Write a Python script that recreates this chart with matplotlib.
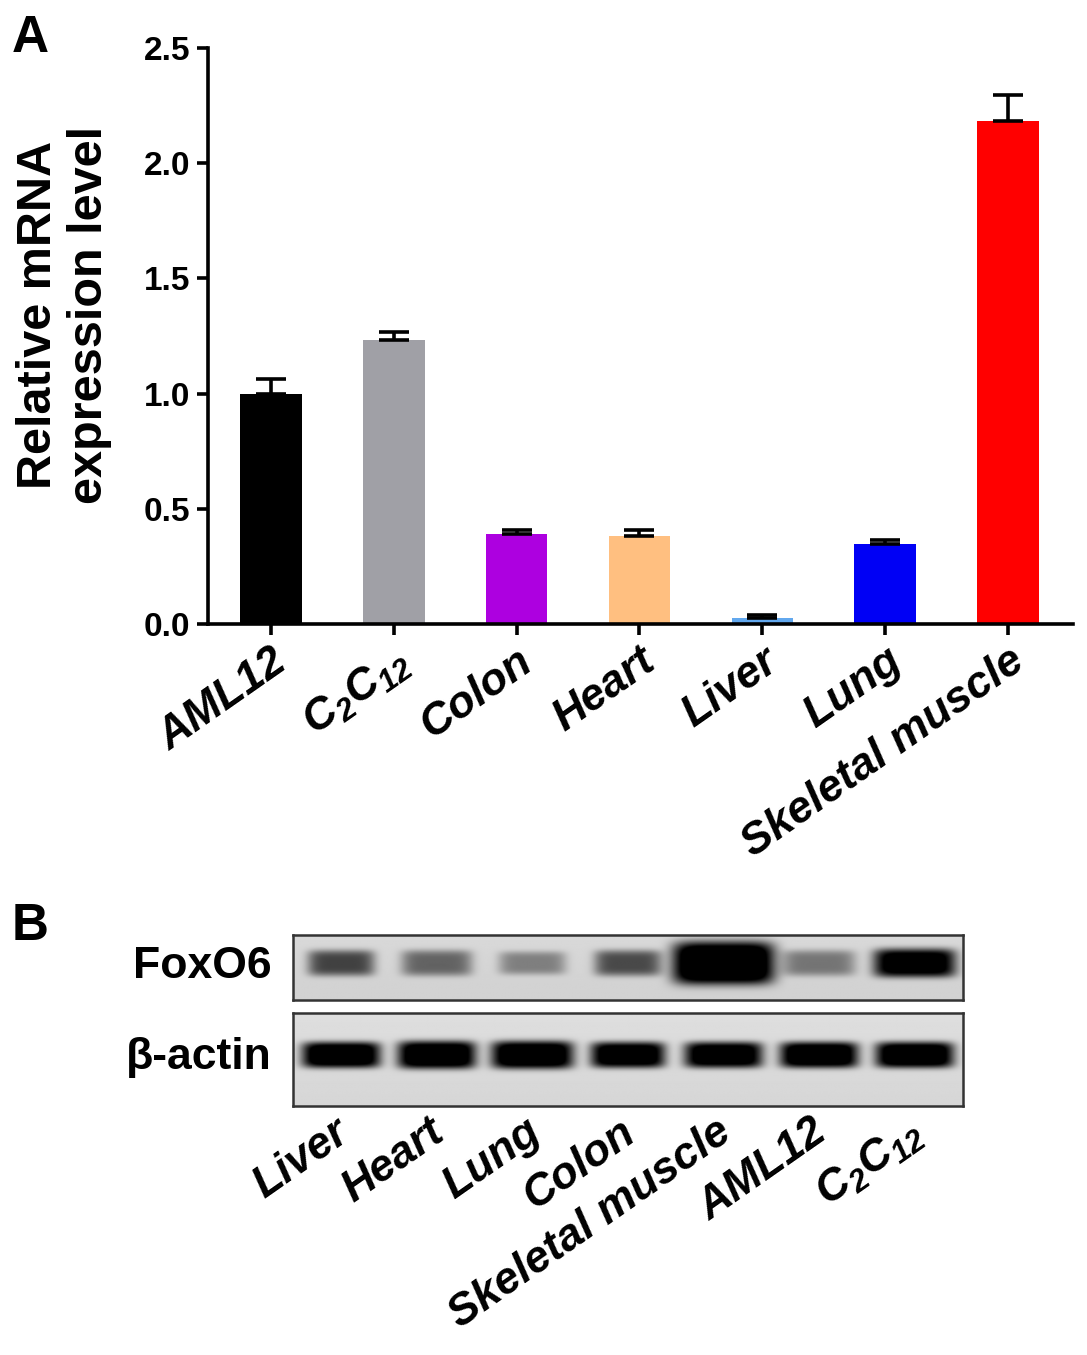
import numpy as np
import matplotlib
matplotlib.use('Agg')
from matplotlib import pyplot as plt
from matplotlib.transforms import ScaledTranslation

plt.rcParams['font.family'] = ['Liberation Sans', 'DejaVu Sans']
plt.rcParams['font.weight'] = 'bold'
plt.rcParams['mathtext.fontset'] = 'custom'
plt.rcParams['mathtext.rm'] = 'Liberation Sans:bold:italic'
plt.rcParams['mathtext.it'] = 'Liberation Sans:bold:italic'
plt.rcParams['mathtext.default'] = 'rm'

# --- panel A data ---
tissues = ['AML12', r'C$_2$C$_{12}$', 'Colon', 'Heart', 'Liver', 'Lung', 'Skeletal muscle']
expr = [1.00, 1.233, 0.39, 0.382, 0.026, 0.347, 2.183]
expr_err = [0.065, 0.034, 0.018, 0.026, 0.013, 0.018, 0.113]
bar_colors = ['#000000', '#a0a0a6', '#ad00e0', '#ffbf80', '#62a8ee', '#0000f5', '#ff0000']
yticks = [0.0, 0.5, 1.0, 1.5, 2.0, 2.5]

# --- panel B data (band darkness per lane, 0..1) ---
lanes = ['Liver', 'Heart', 'Lung', 'Colon', 'Skeletal muscle', 'AML12', r'C$_2$C$_{12}$']
foxo6_dark = [0.58, 0.45, 0.34, 0.55, 1.2, 0.38, 1.0]
foxo6_halfw = [0.35, 0.37, 0.35, 0.35, 0.53, 0.38, 0.43]
foxo6_halfh = [0.20, 0.20, 0.18, 0.20, 0.33, 0.20, 0.22]
actin_dark = [1.1, 1.1, 1.1, 1.05, 1.05, 1.1, 1.1]
actin_halfw = [0.41, 0.41, 0.43, 0.39, 0.41, 0.41, 0.41]
actin_halfh = [0.14, 0.15, 0.15, 0.14, 0.14, 0.14, 0.14]

W, H = 1087, 1355
fig = plt.figure(figsize=(W / 100, H / 100), dpi=100)


def fbox(x0, y0, x1, y1):
    return [x0 / W, 1 - y1 / H, (x1 - x0) / W, (y1 - y0) / H]


# ---------------- Panel A ----------------
ax = fig.add_axes(fbox(208, 48, 1073, 624))
x = np.arange(len(tissues))
ax.bar(x, expr, width=0.5, color=bar_colors, zorder=2)
ax.errorbar(x, expr, yerr=[np.zeros(len(expr)), expr_err], fmt='none',
            ecolor='black', elinewidth=2.6, capsize=11, capthick=2.6, zorder=3)
ax.set_xlim(-0.513, 6.53)
ax.set_ylim(0, 2.5)
ax.set_yticks(yticks)
ax.set_yticklabels(['%.1f' % v for v in yticks], fontsize=24, fontweight='bold')
ax.set_xticks(x)
ax.set_xticklabels(tissues, fontsize=32, fontweight='bold', fontstyle='italic',
                   rotation=35, ha='right', va='top', rotation_mode='anchor')
off = ScaledTranslation(14 / 100, 0, fig.dpi_scale_trans)
for lab in ax.get_xticklabels():
    lab.set_transform(lab.get_transform() + off)
for s in ['top', 'right']:
    ax.spines[s].set_visible(False)
for s in ['left', 'bottom']:
    ax.spines[s].set_linewidth(2.6)
ax.tick_params(axis='both', width=2.6, length=8, direction='out')
ax.tick_params(axis='x', pad=4)
ax.tick_params(axis='y', pad=5)

fig.text(64 / W, 1 - 315 / H, 'Relative mRNA\nexpression level', rotation=90,
         ha='center', va='center', fontsize=35, fontweight='bold', linespacing=1.15)
fig.text(12 / W, 1 - 38 / H, 'A', fontsize=37, fontweight='bold', va='center', ha='left')
fig.text(12 / W, 1 - 926 / H, 'B', fontsize=37, fontweight='bold', va='center', ha='left')


# ---------------- Panel B (western blot) ----------------
def blot(axb, dark, halfw, halfh, yc, bg):
    nx, ny = 700, 120
    xs = np.linspace(0, len(dark), nx)
    ys = np.linspace(0, 1, ny)
    X, Y = np.meshgrid(xs, ys)
    img = np.full_like(X, bg) + 0.03 * Y
    for i, d in enumerate(dark):
        dx = (X - (i + 0.5)) / halfw[i]
        dy = (Y - yc) / halfh[i]
        img -= d * np.exp(-(dx ** 2) ** 3 - (dy ** 2) ** 2.2)
    img = np.clip(img, 0, 1)
    axb.imshow(img, cmap='gray', vmin=0, vmax=1, extent=(0, len(dark), 0, 1),
               origin='lower', aspect='auto', interpolation='bilinear')
    axb.set_xlim(0, len(dark))
    axb.set_ylim(0, 1)
    axb.set_yticks([])
    for s in axb.spines.values():
        s.set_linewidth(1.8)
        s.set_color('#333333')


ax1 = fig.add_axes(fbox(293, 935, 963, 1000))
blot(ax1, foxo6_dark, foxo6_halfw, foxo6_halfh, 0.57, 0.82)
ax1.set_xticks([])

ax2 = fig.add_axes(fbox(293, 1013, 963, 1106))
blot(ax2, actin_dark, actin_halfw, actin_halfh, 0.55, 0.84)
ax2.set_xticks(np.arange(len(lanes)) + 0.5)
ax2.set_xticklabels(lanes, fontsize=32, fontweight='bold', fontstyle='italic',
                    rotation=35, ha='right', va='top', rotation_mode='anchor')
ax2.tick_params(axis='x', length=0, pad=4)
off2 = ScaledTranslation(-8 / 100, 0, fig.dpi_scale_trans)
for lab in ax2.get_xticklabels():
    lab.set_transform(lab.get_transform() + off2)

fig.text(272 / W, 1 - 967 / H, 'FoxO6', fontsize=32, fontweight='bold', ha='right', va='center')
fig.text(272 / W, 1 - 1058 / H, 'β-actin', fontsize=32, fontweight='bold', ha='right', va='center')

fig.savefig('out.png', dpi=100)
